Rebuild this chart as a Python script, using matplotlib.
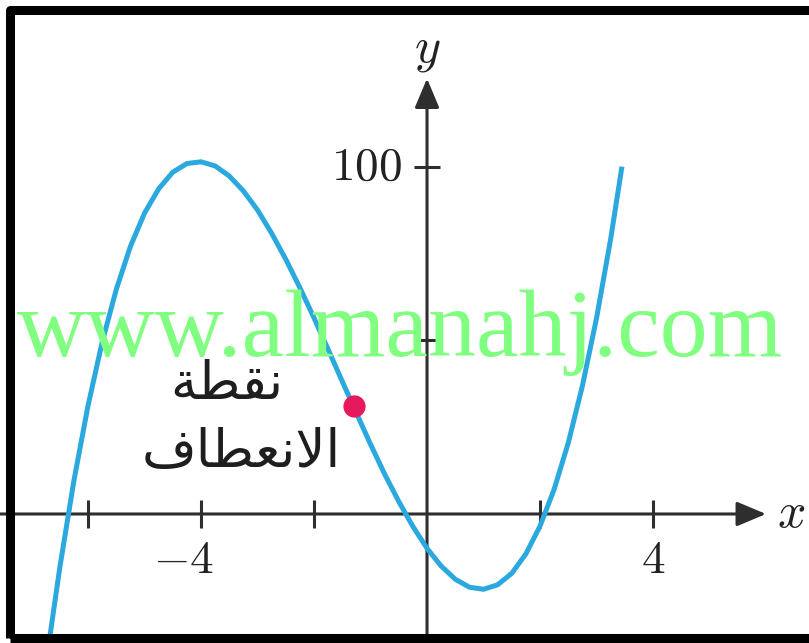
import matplotlib.pyplot as plt
from matplotlib import transforms
from matplotlib.patches import Rectangle

plt.rcParams['mathtext.fontset'] = 'cm'

# points
curve_x = [-6.70, -6.50, -6.25, -6.00, -5.75, -5.50, -5.25, -5.00, -4.75, -4.50,
           -4.25, -4.00, -3.75, -3.50, -3.25, -3.00, -2.75, -2.50, -2.25, -2.00,
           -1.75, -1.50, -1.25, -1.00, -0.75, -0.50, -0.25, 0.00, 0.25, 0.50,
           0.75, 1.00, 1.25, 1.50, 1.75, 2.00, 2.25, 2.50, 2.75, 3.00,
           3.25, 3.45]
curve_y = [-38.1, -15.5, 9.6, 31.2, 49.5, 64.7, 77.1, 86.7, 93.7, 98.5,
           101.0, 101.5, 100.3, 97.4, 93.1, 87.6, 80.9, 73.4, 65.2, 56.5,
           47.4, 38.2, 29.1, 20.1, 11.5, 3.6, -3.6, -9.9, -15.0, -18.8,
           -21.1, -21.7, -20.4, -17.1, -11.5, -3.5, 7.1, 20.5, 36.9, 56.4,
           79.2, 100.1]

inflection_x = -1.3
inflection_y = 31.0

x_ticks = [-6, -4, -2, 2, 4]
x_labels = ['', '$-4$', '', '', '$4$']
y_ticks = [50, 100]
y_labels = ['', '$100$']

# shaped arabic (presentation forms, visual order)
label_line1 = '\uFE94\uFEC4\uFED8\uFEE7'                      # نقطة
label_line2 = '\uFED1\uFE8E\uFEC4\uFECC\uFEE7\uFEFB\uFE8D'    # الانعطاف

axis_col = '#2e2e2e'
curve_col = '#2ba8de'

fig = plt.figure(figsize=(8.09, 6.43), dpi=100)
ax = fig.add_axes([0, 0, 1, 1])
ax.set_xlim(-7.558, 6.761)
ax.set_ylim(-37.18, 148.13)

for s in ax.spines.values():
    s.set_visible(False)
ax.spines['bottom'].set_position(('data', 0))
ax.spines['left'].set_position(('data', 0))
ax.set_xticks(x_ticks)
ax.set_yticks(y_ticks)
ax.set_xticklabels([])
ax.set_yticklabels([])
ax.tick_params(axis='x', direction='inout', length=20, width=2.2, color=axis_col)
ax.tick_params(axis='y', direction='inout', length=19, width=2.2, color=axis_col)

# axes with arrow heads
arrow = dict(arrowstyle='-|>,head_length=1.0,head_width=0.42', mutation_scale=18,
             lw=2.2, color=axis_col, shrinkA=0, shrinkB=0)
ax.annotate('', xy=(6.0, 0), xytext=(-7.6, 0), arrowprops=arrow, zorder=2)
ax.annotate('', xy=(0, 125.5), xytext=(0, -38), arrowprops=arrow, zorder=2)

ax.plot(curve_x, curve_y, color=curve_col, lw=3.6, solid_capstyle='butt', zorder=3)
ax.plot([inflection_x], [inflection_y], 'o', color='#e6195c', markersize=15, zorder=4)

tx = transforms.offset_copy(ax.transData, fig=fig, x=12.5, y=0, units='dots')
for v, lab in zip(x_ticks, x_labels):
    if lab:
        ax.text(v, -13.3, lab, transform=tx, ha='right', va='center',
                fontsize=34, color='#222222')
ty = transforms.offset_copy(ax.transData, fig=fig, x=-25, y=0, units='dots')
for v, lab in zip(y_ticks, y_labels):
    if lab:
        ax.text(0, v, lab, transform=ty, ha='right', va='center',
                fontsize=34, color='#222222')

ax.text(0, 133.7, '$y$', ha='center', va='center', fontsize=36, color='#222222')
ax.text(6.44, 0.3, '$x$', ha='center', va='center', fontsize=36, color='#222222')

ax.text(-3.54, 37.5, label_line1, ha='center', va='center', fontsize=38,
        family='DejaVu Sans', color='#1e1e1e')
ax.text(-3.29, 18.0, label_line2, ha='center', va='center', fontsize=38,
        family='DejaVu Sans', color='#1e1e1e')

# watermark
ax.text(-0.48, 45.5, 'www.almanahj.com', ha='center', va='baseline', fontsize=69,
        family='Liberation Serif', color='#80ff80', zorder=10)

# frame
fig.patches.append(Rectangle((10 / 809, 5 / 643), 1.2, 628.5 / 643,
                             transform=fig.transFigure, fill=False, lw=6.5,
                             edgecolor='black', joinstyle='round', zorder=20))

fig.savefig('out.png', dpi=100)
